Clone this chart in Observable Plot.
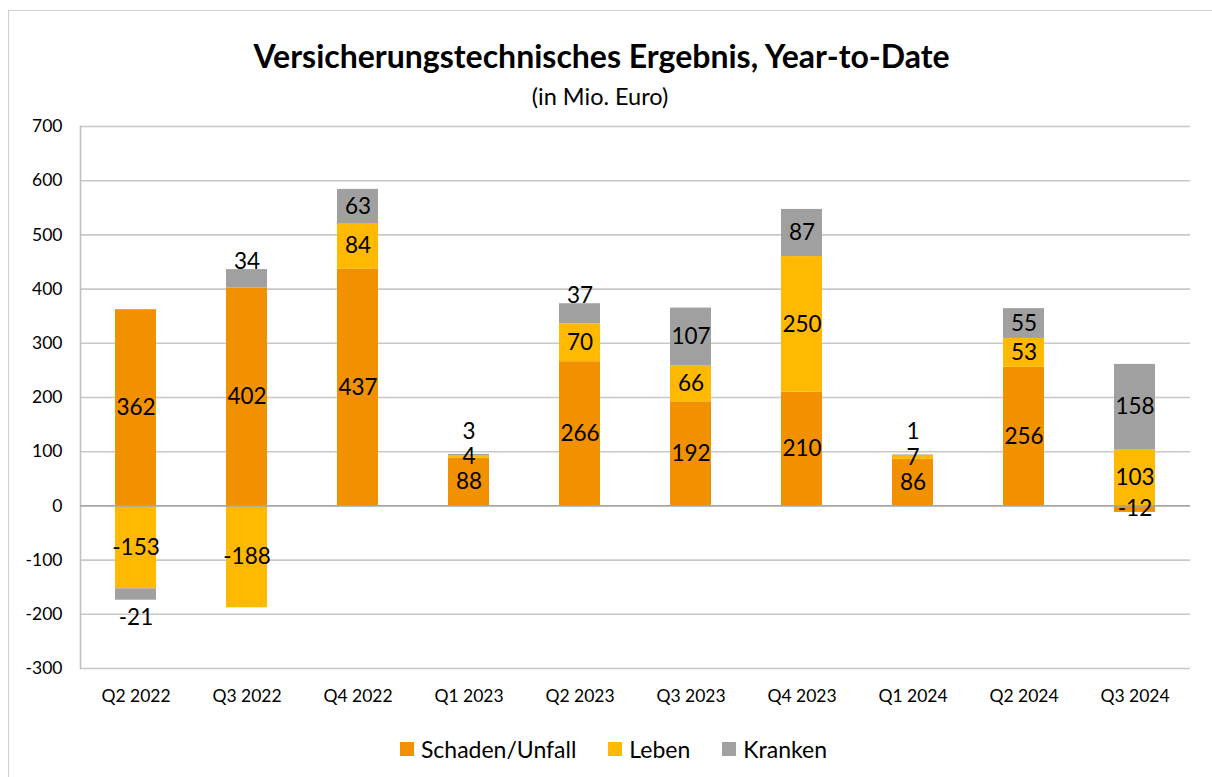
<!DOCTYPE html>
<html>
<head>
<meta charset="utf-8">
<script src="https://cdn.jsdelivr.net/npm/d3@7"></script>
<script src="https://cdn.jsdelivr.net/npm/@observablehq/plot@0.6"></script>
<style>
  html, body { margin: 0; padding: 0; background: #fff; }
  #page { position: relative; width: 1212px; height: 777px; overflow: hidden; font-family: Lato, "Open Sans", sans-serif; color: #000; }
  #border { position: absolute; left: 8px; top: 10px; width: 1220px; height: 780px; border: 1px solid #cfcfcf; box-sizing: border-box; }
  #title { position: absolute; left: 0; width: 1203px; top: 36px; height: 40px; line-height: 40px; text-align: center; font-weight: 700; font-size: 32px; }
  #subtitle { position: absolute; left: 0; width: 1200px; top: 81px; height: 30px; line-height: 30px; text-align: center; font-size: 23.5px; }
  #chart { position: absolute; left: 0; top: 110px; }
  #legend { position: absolute; left: 0; width: 1227px; top: 729px; height: 40px; display: flex; justify-content: center; align-items: center; font-size: 23px; }
  .item { display: flex; align-items: center; margin: 0 16px; }
  .sw { width: 14px; height: 14px; margin-right: 7px; }
</style>
</head>
<body>
<div id="page">
  <div id="border"></div>
  <div id="title">Versicherungstechnisches Ergebnis, Year-to-Date</div>
  <div id="subtitle">(in Mio. Euro)</div>
  <div id="chart"></div>
  <div id="legend"></div>
</div>
<script>
const quarters = ["Q2 2022","Q3 2022","Q4 2022","Q1 2023","Q2 2023","Q3 2023","Q4 2023","Q1 2024","Q2 2024","Q3 2024"];
const seriesNames = ["Schaden/Unfall","Leben","Kranken"];
const seriesColors = ["#F29100","#FFB900","#A0A0A0"];
const schaden = [362, 402, 437, 88, 266, 192, 210, 86, 256, -12];
const leben   = [-153, -188, 84, 4, 70, 66, 250, 7, 53, 103];
const kranken = [-21, 34, 63, 3, 37, 107, 87, 1, 55, 158];
const yTicks = [-300, -200, -100, 0, 100, 200, 300, 400, 500, 600, 700];

const data = [];
[schaden, leben, kranken].forEach((vals, si) =>
  vals.forEach((v, qi) => data.push({quarter: quarters[qi], series: seriesNames[si], value: v}))
);

// small top/bottom segments get their label outside the stack
const outerSmall = d => d.series === "Kranken" && Math.abs(d.value) < 40;
const stackOpts = {x: "quarter", y: "value", z: "series", order: seriesNames};
const labelFont = {fontSize: 22.5, fill: "#000", fontFamily: "Lato"};

const chart = Plot.plot({
  width: 1212,
  height: 610,
  marginLeft: 80,
  marginRight: 22,
  marginTop: 16,
  marginBottom: 52,
  style: {fontFamily: "Lato", fontSize: "17.5px", color: "#000", background: "transparent"},
  x: {domain: quarters, paddingInner: 0.63, paddingOuter: 0.315, label: null},
  y: {domain: [-300, 700], label: null},
  color: {domain: seriesNames, range: seriesColors},
  marks: [
    Plot.ruleY(yTicks.filter(t => t !== 0), {stroke: "#c8c8c8", strokeWidth: 1.6}),
    Plot.frame({anchor: "left", stroke: "#c0c0c0", strokeWidth: 1.6}),
    Plot.barY(data, Plot.stackY({...stackOpts, fill: "series"})),
    Plot.ruleY([0], {stroke: "#a6a6a6", strokeWidth: 1.6}),
    Plot.axisY({ticks: yTicks, tickSize: 0, tickPadding: 18, tickFormat: d => String(d), fontSize: 17.5}),
    Plot.axisX({tickSize: 0, tickPadding: 21, fontSize: 17.5}),
    Plot.text(data, Plot.stackY({...stackOpts, ...labelFont, text: d => outerSmall(d) ? "" : String(d.value)})),
    Plot.text(data, Plot.stackY2({...stackOpts, ...labelFont, dy: -8,
      text: d => outerSmall(d) && d.value >= 10 ? String(d.value) : ""})),
    Plot.text(data, Plot.stackY2({...stackOpts, ...labelFont, dy: -23,
      text: d => outerSmall(d) && d.value > 0 && d.value < 10 ? String(d.value) : ""})),
    Plot.text(data, Plot.stackY2({...stackOpts, ...labelFont, dy: 18,
      text: d => outerSmall(d) && d.value < 0 ? String(d.value) : ""}))
  ]
});
document.getElementById("chart").appendChild(chart);

const legend = document.getElementById("legend");
seriesNames.forEach((name, i) => {
  const item = document.createElement("div");
  item.className = "item";
  const sw = document.createElement("div");
  sw.className = "sw";
  sw.style.background = seriesColors[i];
  const label = document.createElement("span");
  label.textContent = name;
  item.appendChild(sw);
  item.appendChild(label);
  legend.appendChild(item);
});
</script>
</body>
</html>
